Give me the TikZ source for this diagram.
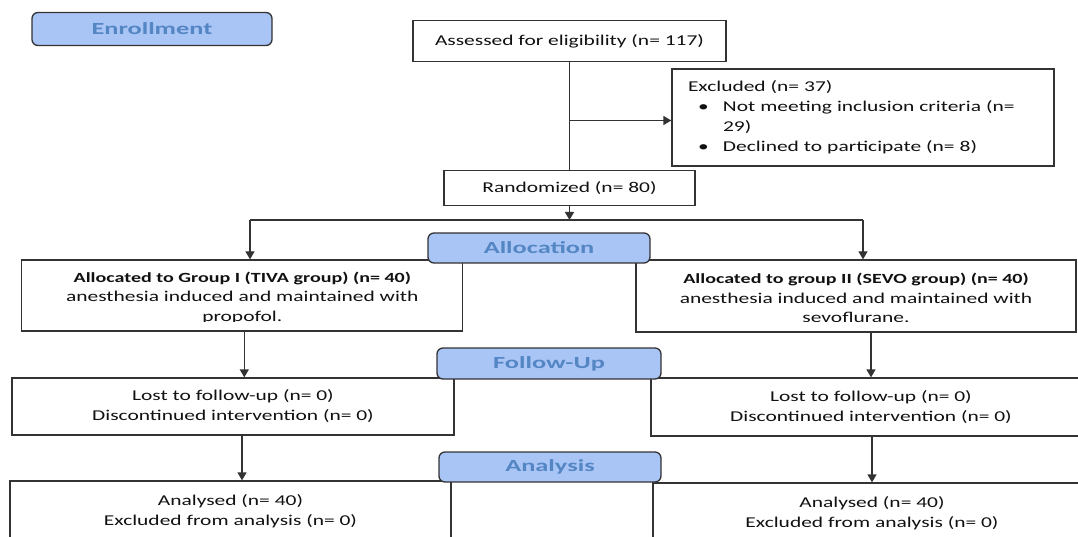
\documentclass[tikz,border=0pt]{standalone}
\usepackage{fontspec}
\setmainfont{Carlito}[FakeStretch=1.43]
\newfontfamily\stagefont{Carlito}[FakeStretch=1.55]
\usetikzlibrary{arrows.meta}
\definecolor{stagefill}{HTML}{A9C5F6}
\definecolor{stagetext}{HTML}{5486C4}
\definecolor{linegray}{HTML}{333333}
\definecolor{textgray}{HTML}{111111}

\begin{document}
\begin{tikzpicture}[x=1pt,y=-1pt,
  box/.style={draw=linegray, line width=1.3pt, fill=white, inner sep=0pt, align=center,
    text=textgray, font=\fontsize{15}{20}\selectfont},
  grptext/.style={inner sep=0pt, align=center, text=textgray, font=\fontsize{15}{19.5}\selectfont},
  stage/.style={draw=linegray, line width=1.3pt, fill=stagefill, rounded corners=6pt, inner sep=0pt,
    text=stagetext, font=\stagefont\fontsize{17}{19}\selectfont\bfseries},
  link/.style={draw=linegray, line width=1.3pt},
  arr/.style={link, -{Triangle[length=8pt,width=9pt]}}]
  \clip (0,0) rectangle (1078,537);
  % enrollment
  \node[stage, minimum width=240pt, minimum height=33pt] (enroll) at (152,29) {Enrollment};
  \node[box, minimum width=313pt, minimum height=41pt] (assess) at (569.5,41) {Assessed for eligibility (n= 117)};
  \node[box, minimum width=382pt, minimum height=97pt, text width=350pt, align=left] (excl) at (863,117.5)
    {Excluded (n= 37)\\
     \hspace*{10pt}\makebox[25pt][l]{•}Not meeting inclusion criteria (n=\\
     \hspace*{35pt}29)\\
     \hspace*{10pt}\makebox[25pt][l]{•}Declined to participate (n= 8)};
  \node[box, minimum width=251pt, minimum height=35pt] (rand) at (569.5,188) {Randomized (n= 80)};
  \coordinate (exclarr) at ([yshift=-3pt]excl.west);
  \draw[link] (assess) -- (rand);
  \draw[arr] (assess.south |- exclarr) -- (exclarr);
  % allocation
  \node[box, minimum width=441pt, minimum height=71pt] (g1) at (242.3,295.5) {};
  \node[box, minimum width=440pt, minimum height=72pt] (g2) at (856,296) {};
  \begin{scope}
    \clip (g1.north west) rectangle ([yshift=11pt]g2.south east);
    \node[grptext] (g1txt) at (242.3,298) {{\fontsize{14}{19.5}\selectfont\bfseries Allocated to Group I (TIVA group) (n= 40)}\\
      anesthesia induced and maintained with\\ propofol.};
    \node[grptext] (g2txt) at (856,298) {{\fontsize{14}{19.5}\selectfont\bfseries Allocated to group II (SEVO group) (n= 40)}\\
      anesthesia induced and maintained with\\ sevoflurane.};
  \end{scope}
  \coordinate (splitL) at (250,220);
  \coordinate (splitR) at (863,220);
  \draw[arr] (rand) -- (rand.south |- splitL);
  \draw[link] (splitL) -- (splitR);
  \draw[arr] (splitL) -- (splitL |- g1.north);
  \draw[arr] (splitR) -- (splitR |- g2.north);
  \node[stage, minimum width=222pt, minimum height=30pt] (alloc) at (539,248) {Allocation};
  % follow-up
  \node[box, minimum width=442pt, minimum height=57pt] (fu1) at (233,406.5) {Lost to follow-up (n= 0)\\ Discontinued intervention (n= 0)};
  \node[box, minimum width=440pt, minimum height=58pt] (fu2) at (871,407) {Lost to follow-up (n= 0)\\ Discontinued intervention (n= 0)};
  \draw[arr] ([xshift=2pt]g1.south) -- ([xshift=2pt]g1.south |- fu1.north);
  \draw[arr] (g2.south -| fu2.north) -- (fu2.north);
  \node[stage, minimum width=224pt, minimum height=31pt] (follow) at (549,363.5) {Follow-Up};
  % analysis
  \node[box, minimum width=441pt, minimum height=60pt] (an1) at (230.5,511) {Analysed (n= 40)\\ Excluded from analysis (n= 0)};
  \node[box, minimum width=438pt, minimum height=60pt] (an2) at (872,513) {Analysed (n= 40)\\ Excluded from analysis (n= 0)};
  \draw[arr] ([xshift=9pt]fu1.south) -- ([xshift=9pt]fu1.south |- an1.north);
  \draw[arr] (fu2.south -| an2.north) -- (an2.north);
  \node[stage, minimum width=222pt, minimum height=30pt] (analysis) at (550,467) {Analysis};
\end{tikzpicture}
\end{document}
